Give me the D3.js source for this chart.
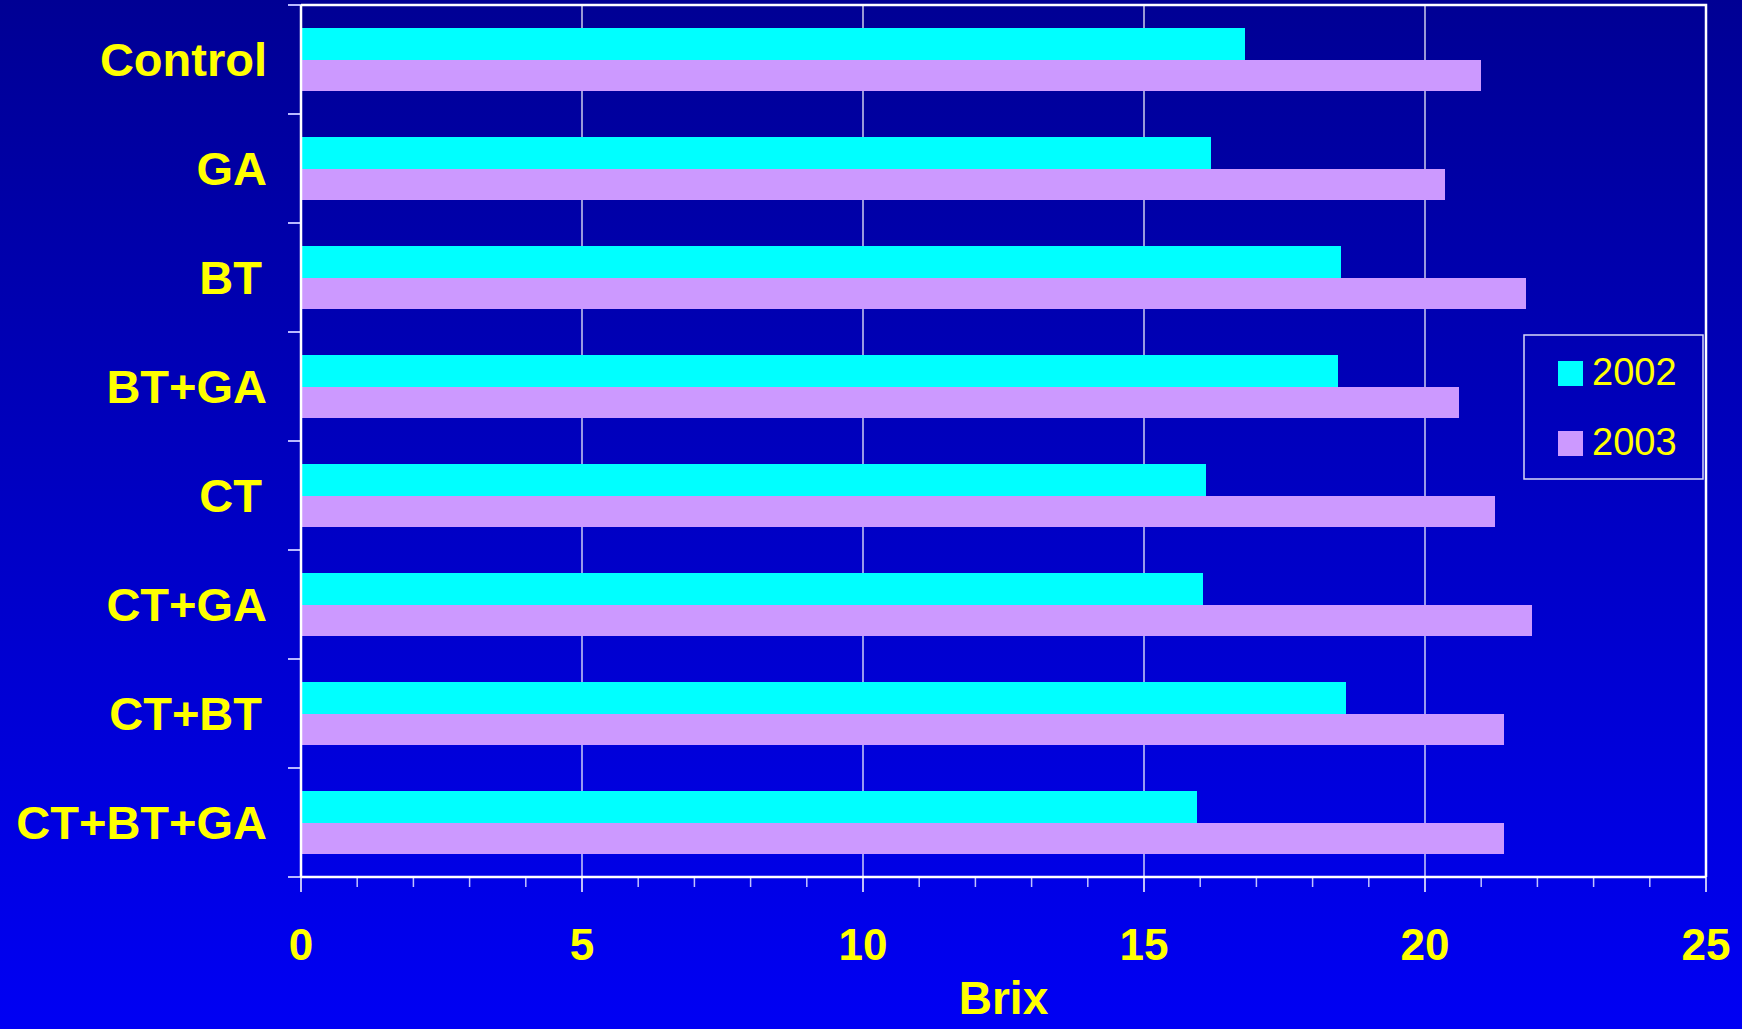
<!DOCTYPE html>
<meta charset="utf-8">
<head>
<script src="https://d3js.org/d3.v7.min.js"></script>
<style>
  body { margin: 0; overflow: hidden; }
  svg { display: block; }
  text { font-family: Arial, "Liberation Sans", Helvetica, sans-serif; }
</style>
</head>
<body>
<svg></svg>
<script>
// data (Brix)
var categories = ["Control", "GA", "BT", "BT+GA", "CT", "CT+GA", "CT+BT", "CT+BT+GA"];
var seriesNames = ["2002", "2003"];
var brix2002 = [16.8, 16.2, 18.5, 18.45, 16.1, 16.05, 18.6, 15.95];
var brix2003 = [21.0, 20.35, 21.8, 20.6, 21.25, 21.9, 21.4, 21.4];
var xTicks = [0, 5, 10, 15, 20, 25];

var width = 1742,
    height = 1029;
var colors = { "2002": "#00ffff", "2003": "#cc99ff" };

var margin = { left: 301, right: 36, top: 5, bottom: 152 };
var pw = width - margin.left - margin.right,
    ph = height - margin.top - margin.bottom;

var svg = d3.select("svg").attr("width", width).attr("height", height);

// background gradient dark navy -> blue
var grad = svg.append("defs").append("linearGradient")
    .attr("id", "bg").attr("x1", 0).attr("y1", 0).attr("x2", 0).attr("y2", 1);
grad.append("stop").attr("offset", "0%").attr("stop-color", "#000094");
grad.append("stop").attr("offset", "100%").attr("stop-color", "#0000f4");
svg.append("rect").attr("width", width).attr("height", height).attr("fill", "url(#bg)");

var g = svg.append("g").attr("transform", "translate(" + margin.left + "," + margin.top + ")");

var x = d3.scaleLinear().domain([0, 25]).range([0, pw]);
var y = d3.scaleBand().domain(categories).range([0, ph]);
// two bars per category, centred in the band with gaps above and below
var yGroup = d3.scaleBand().domain(seriesNames).range([0, y.bandwidth()]).paddingOuter(0.75);

// gridlines
g.selectAll(".grid")
    .data(xTicks.slice(1, -1))
    .enter().append("line")
    .attr("x1", function (d) { return x(d); })
    .attr("x2", function (d) { return x(d); })
    .attr("y1", 0).attr("y2", ph)
    .attr("stroke", "#ffffff").attr("stroke-width", 1.2);

// bars
var rows = categories.map(function (c, i) {
    return { cat: c, values: [{ s: "2002", v: brix2002[i] }, { s: "2003", v: brix2003[i] }] };
});
var row = g.selectAll(".row")
    .data(rows)
    .enter().append("g")
    .attr("transform", function (d) { return "translate(0," + y(d.cat) + ")"; });
row.selectAll("rect")
    .data(function (d) { return d.values; })
    .enter().append("rect")
    .attr("x", x(0))
    .attr("y", function (d) { return yGroup(d.s); })
    .attr("height", yGroup.bandwidth() + 0.5)
    .attr("width", function (d) { return x(d.v) - x(0); })
    .attr("fill", function (d) { return colors[d.s]; })
    .attr("shape-rendering", "crispEdges");

// plot border (top + right)
g.append("path")
    .attr("d", "M0,0H" + pw + "V" + ph)
    .attr("fill", "none").attr("stroke", "#ffffff").attr("stroke-width", 2.5);

// left axis with category ticks
var yAxisTicks = categories.map(function (c) { return y(c); }).concat([ph]);
g.selectAll(".ytick")
    .data(yAxisTicks)
    .enter().append("line")
    .attr("x1", -13).attr("x2", 0)
    .attr("y1", function (d) { return d; }).attr("y2", function (d) { return d; })
    .attr("stroke", "#b8b8ff").attr("stroke-width", 2);
g.append("line").attr("x1", 0).attr("x2", 0).attr("y1", 0).attr("y2", ph)
    .attr("stroke", "#ffffff").attr("stroke-width", 2.5);

g.selectAll(".ylab")
    .data(categories)
    .enter().append("text")
    .attr("x", function (d) { return /T$/.test(d) ? -39 : -34; })
    .attr("y", function (d) { return y(d) + y.bandwidth() / 2; })
    .attr("dy", "0.36em")
    .attr("text-anchor", "end")
    .attr("fill", "#ffff00")
    .style("font-weight", "bold")
    .style("font-size", "47px")
    .text(function (d) { return d; });

// bottom axis: major + minor ticks
var minor = d3.range(0, 26).filter(function (d) { return d % 5 !== 0; });
g.selectAll(".minor")
    .data(minor)
    .enter().append("line")
    .attr("x1", function (d) { return x(d); }).attr("x2", function (d) { return x(d); })
    .attr("y1", ph).attr("y2", ph + 10)
    .attr("stroke", "#c0c0ff").attr("stroke-width", 1.5);
g.selectAll(".major")
    .data(xTicks)
    .enter().append("line")
    .attr("x1", function (d) { return x(d); }).attr("x2", function (d) { return x(d); })
    .attr("y1", ph).attr("y2", ph + 15)
    .attr("stroke", "#ffffff").attr("stroke-width", 1.5);
g.append("line").attr("x1", 0).attr("x2", pw).attr("y1", ph).attr("y2", ph)
    .attr("stroke", "#ffffff").attr("stroke-width", 2.5);

g.selectAll(".xlab")
    .data(xTicks)
    .enter().append("text")
    .attr("x", function (d) { return x(d); })
    .attr("y", ph + 67)
    .attr("dy", "0.36em")
    .attr("text-anchor", "middle")
    .attr("fill", "#ffff00")
    .style("font-weight", "bold")
    .style("font-size", "44px")
    .text(function (d) { return d; });

g.append("text")
    .attr("x", pw / 2)
    .attr("y", ph + 120)
    .attr("dy", "0.36em")
    .attr("text-anchor", "middle")
    .attr("fill", "#ffff00")
    .style("font-weight", "bold")
    .style("font-size", "46px")
    .text("Brix");

// legend
var legend = svg.append("g").attr("transform", "translate(1524,335)");
legend.append("rect")
    .attr("width", 179).attr("height", 144)
    .attr("fill", "none").attr("stroke", "#d8d8f8").attr("stroke-width", 1.5);
var item = legend.selectAll(".item")
    .data(seriesNames)
    .enter().append("g")
    .attr("transform", function (d, i) { return "translate(34," + (26 + i * 70) + ")"; });
item.append("rect")
    .attr("width", 25).attr("height", 25)
    .attr("fill", function (d) { return colors[d]; });
item.append("text")
    .attr("x", 34).attr("y", 10)
    .attr("dy", "0.36em")
    .attr("fill", "#ffff00")
    .style("font-size", "38px")
    .text(function (d) { return d; });
</script>
</body>
</html>
